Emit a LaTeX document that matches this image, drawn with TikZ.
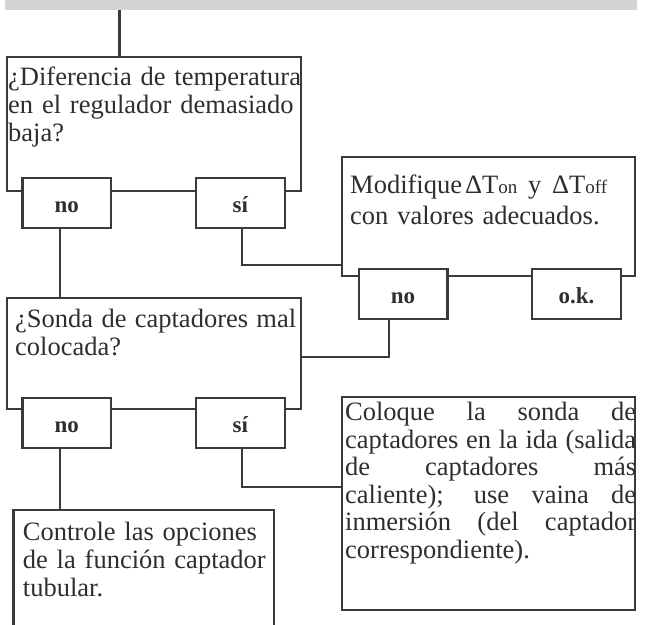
\documentclass[tikz,border=0pt]{standalone}
\usepackage{fontspec}
\setmainfont{Liberation Serif}
\definecolor{lc}{HTML}{3A3A3A}
\definecolor{tc}{HTML}{2E2E2E}
\definecolor{bandc}{HTML}{D4D4D6}
\tikzset{
  bigbox/.style={draw=lc, line width=2.2pt, inner sep=0pt, anchor=north west},
  smallbox/.style={draw=lc, line width=2.2pt, fill=white, inner sep=0pt, anchor=north west,
     minimum width=88.6pt, minimum height=50.3pt, text height=20pt, text depth=0pt,
     font=\fontsize{23}{25}\selectfont\bfseries, text=tc},
  txt/.style={inner sep=0pt, anchor=north west, align=left, text=tc, text width=400pt,
     font=\fontsize{26.5}{28}\selectfont},
  conn/.style={draw=lc, line width=2.2pt},
}
\newcommand{\sm}[1]{{\fontsize{19}{19}\selectfont #1}}
\newcommand{\jline}[2]{\makebox[#1][s]{\spaceskip=0pt\xspaceskip=0pt #2}}
\begin{document}
\begin{tikzpicture}[x=1pt,y=1pt]
\useasboundingbox (0,0) rectangle (645,-624);
\clip (0,0) rectangle (645,-624);
\fill[white] (0,0) rectangle (645,-624);
% band
\node[fill=bandc, inner sep=0pt, anchor=north west, minimum width=632pt, minimum height=9.5pt] (band) at (5,0) {};
% big boxes
\node[bigbox, minimum width=294pt, minimum height=134pt] (b1) at (6,-56) {};
\node[bigbox, minimum width=294pt, minimum height=111pt] (b2) at (6,-297) {};
\node[bigbox, minimum width=293pt, minimum height=119pt] (b3) at (341,-156) {};
\node[bigbox, minimum width=260.4pt, minimum height=140pt] (b4) at (12.3,-509) {};
\node[bigbox, minimum width=293pt, minimum height=213pt] (b5) at (341,-396) {};
% texts
\node[txt] (t1) at (8,-65.4) {\strut¿Diferencia de temperatura\\en el regulador demasiado\\baja?};
\node[txt] (t2) at (15,-307.4) {\strut\jline{281pt}{¿Sonda de captadores mal}\\colocada?};
\node[txt, font=\fontsize{26.5}{31}\selectfont] (t3) at (350,-171.3) {\strut\jline{257pt}{Modifique\kern3pt ΔT\sm{on} y ΔT\sm{off}}\\con valores adecuados.};
\node[txt] (t4) at (22.7,-520.4) {\strut Controle las opciones\\de la función captador\\tubular.};
\node[txt, font=\fontsize{26.5}{27.5}\selectfont] (t5) at (345,-401.4) {\strut\jline{291pt}{Coloque la sonda de}\\\jline{291pt}{captadores en la ida (salida}\\\jline{291pt}{de captadores más}\\\jline{291pt}{caliente); use vaina de}\\\jline{291pt}{inmersión (del captador}\\correspondiente).};
% small boxes
\node[smallbox] (no1) at (21.4,-176.7) {no};
\node[smallbox] (si1) at (195,-176.7) {sí};
\node[smallbox] (no2) at (21.4,-396.7) {no};
\node[smallbox] (si2) at (195,-396.7) {sí};
\node[smallbox] (no3) at (357.7,-267.7) {no};
\node[smallbox] (ok3) at (531,-267.7) {o.k.};
% connector coordinates
\coordinate (xA) at (119.5,0);
\coordinate (xL) at (60,0);
\coordinate (cS1) at (241.7,-265);
\coordinate (cN3) at (389,-356.7);
\coordinate (cS2) at (241.7,-487);
% connectors
\draw[conn] (band.south -| xA) -- (b1.north -| xA);
\draw[conn] (no1.south -| xL) -- (b2.north -| xL);
\draw[conn] (si1.south -| cS1) -- (cS1) -- (cS1 -| b3.west);
\draw[conn] (no3.south -| cN3) -- (cN3) -- (cN3 -| b2.east);
\draw[conn] (no2.south -| xL) -- (b4.north -| xL);
\draw[conn] (si2.south -| cS2) -- (cS2) -- (cS2 -| b5.west);
\end{tikzpicture}
\end{document}
